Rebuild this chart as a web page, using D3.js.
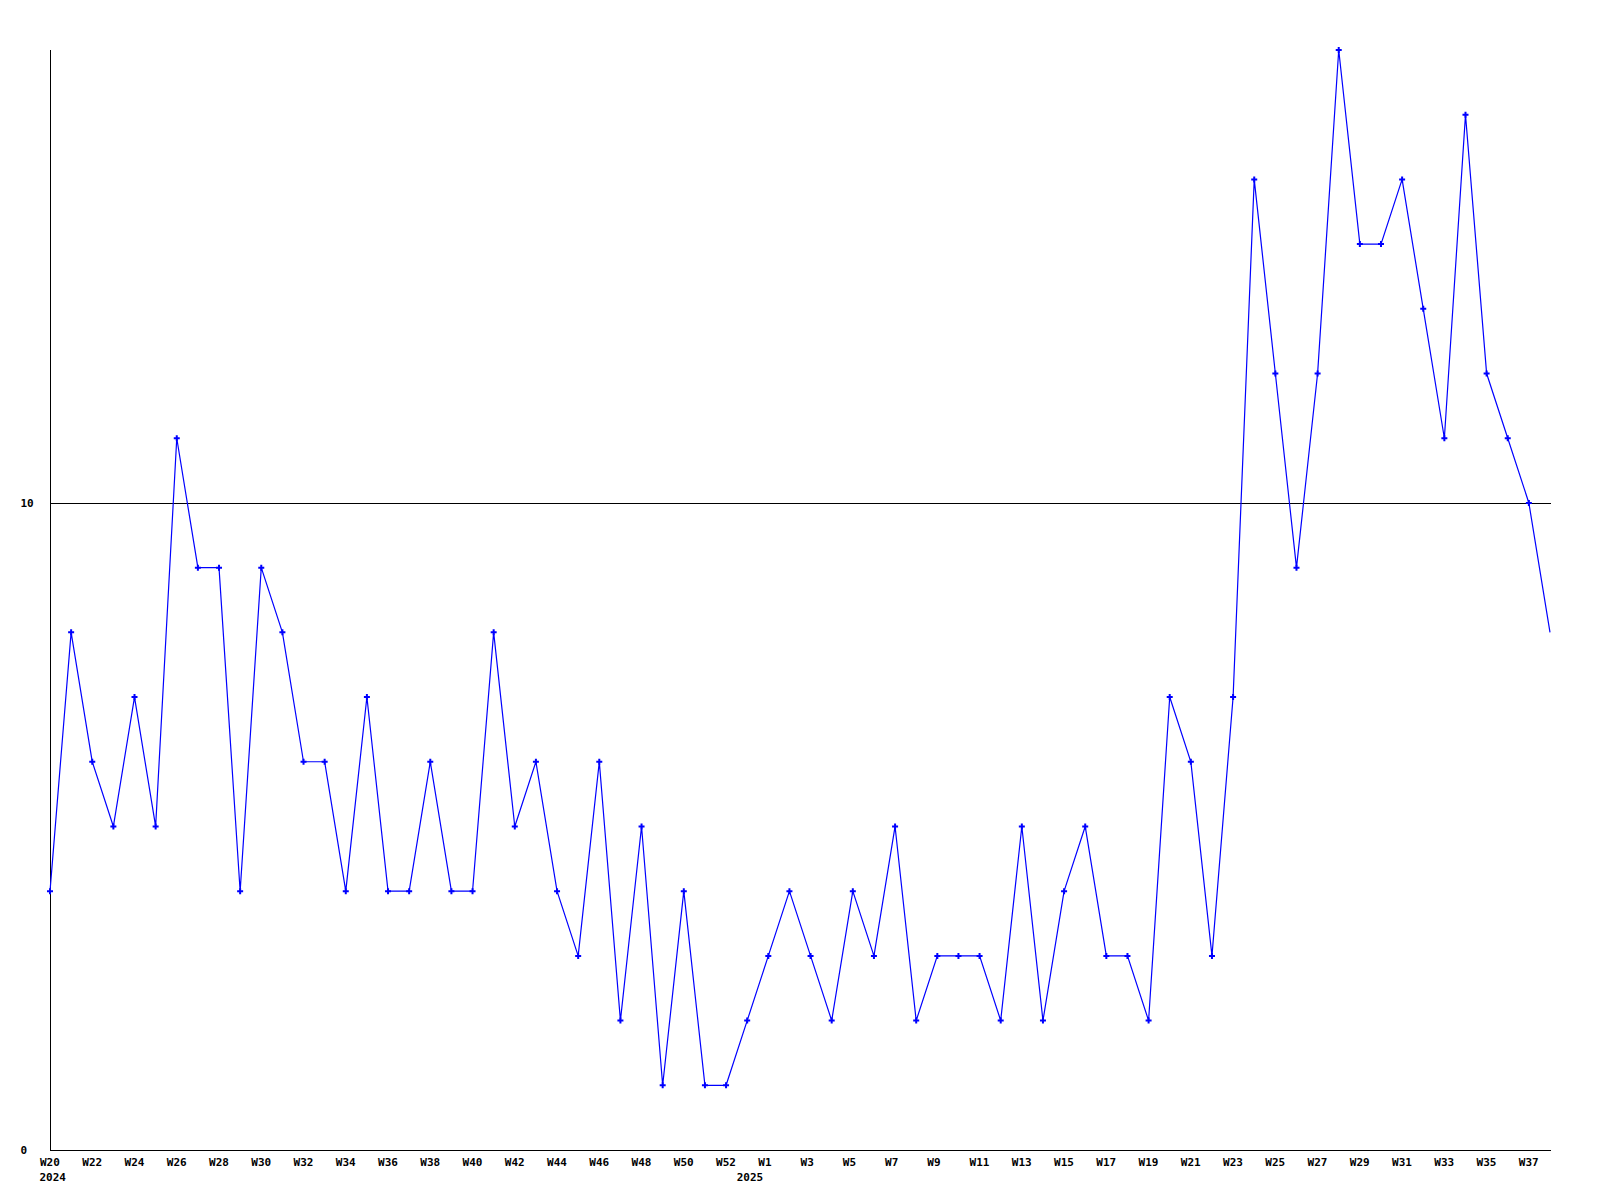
<!DOCTYPE html>
<html>
<head>
<meta charset="utf-8">
<script src="https://cdn.jsdelivr.net/npm/d3@7"></script>
<style>
  body { margin: 0; background: #fff; }
  text { font-family: "DejaVu Sans Mono", monospace; font-weight: bold; font-size: 11px; fill: #000; }
</style>
</head>
<body>
<div id="vis"></div>
<script>
// weekly counts, W20 2024 .. W38 2025
const WEEKS_2024 = d3.range(20, 53).map(w => "W" + w);
const WEEKS_2025 = d3.range(0, 39).map(w => "W" + w);
const YEARS = ["2024", "2025"];
const VALUES = [
  4, 8, 6, 5, 7, 5, 11, 9, 9, 4, 9, 8, 6, 6, 4, 7, 4, 4, 6, 4, 4, 8, 5, 6, 4, 3, 6, 2, 5, 1, 4, 1, 1,
  2, 3, 4, 3, 2, 4, 3, 5, 2, 3, 3, 3, 2, 5, 2, 4, 5, 3, 3, 2, 7, 6, 3, 7, 15, 12, 9, 12, 17, 14, 14, 15, 13, 11, 16, 12, 11, 10, 8
];
const Y_TICKS = [0, 10];

const FRAME_WIDTH = 1600;
const FRAME_HEIGHT = 1200;
const MARGINS = {left: 50, right: 50, top: 50, bottom: 50};

// one row per point, key is index so the repeated week names stay unique
const data = [];
WEEKS_2024.forEach((w, i) => data.push({key: i, week: w, year: YEARS[0]}));
WEEKS_2025.forEach((w, i) => data.push({key: WEEKS_2024.length + i, week: w, year: YEARS[1]}));
data.forEach((d, i) => d.value = VALUES[i]);

const svg = d3.select("#vis")
    .append("svg")
    .attr("width", FRAME_WIDTH)
    .attr("height", FRAME_HEIGHT);

const X_SCALE = d3.scalePoint()
    .domain(data.map(d => d.key))
    .range([MARGINS.left, FRAME_WIDTH - MARGINS.right]);

const Y_SCALE = d3.scaleLinear()
    .domain([0, 17])
    .range([FRAME_HEIGHT - MARGINS.bottom, MARGINS.top]);

const BASE_Y = FRAME_HEIGHT - MARGINS.bottom;

// grid line at 10
svg.append("line")
    .attr("x1", MARGINS.left).attr("x2", FRAME_WIDTH - MARGINS.right + 1)
    .attr("y1", Math.round(Y_SCALE(10)) + 0.5).attr("y2", Math.round(Y_SCALE(10)) + 0.5)
    .attr("stroke", "#000").attr("shape-rendering", "crispEdges");

// x axis: every second week
const xAxis = d3.axisBottom(X_SCALE)
    .tickValues(data.filter((d, i) => i % 2 === 0).map(d => d.key))
    .tickFormat(k => data[k].week)
    .tickSize(0)
    .tickSizeOuter(0);

const gx = svg.append("g")
    .attr("transform", "translate(0," + (BASE_Y + 0.5) + ")")
    .call(xAxis);
gx.select(".domain").attr("stroke", "#000").attr("shape-rendering", "crispEdges")
    .attr("d", "M" + MARGINS.left + ",0H" + (FRAME_WIDTH - MARGINS.right + 1));
gx.selectAll(".tick text")
    .attr("text-anchor", "start")
    .attr("x", -10.5)
    .attr("y", 8)
    .attr("dy", "0.71em")
    .attr("font-size", null).attr("font-family", null);

// year labels where the year starts
const yearStarts = data.filter((d, i) => i === 0 || d.year !== data[i - 1].year);
svg.selectAll(".year")
    .data(yearStarts)
    .enter()
    .append("text")
    .attr("class", "year")
    .attr("x", d => X_SCALE(d.key) - 10.5)
    .attr("y", BASE_Y + 23)
    .attr("dy", "0.71em")
    .text(d => d.year);

// y axis
const yAxis = d3.axisLeft(Y_SCALE)
    .tickValues(Y_TICKS)
    .tickSize(0)
    .tickSizeOuter(0);

const gy = svg.append("g")
    .attr("transform", "translate(" + (MARGINS.left + 0.5) + ",0)")
    .call(yAxis);
gy.select(".domain").attr("stroke", "#000").attr("shape-rendering", "crispEdges")
    .attr("d", "M0," + MARGINS.top + "V" + BASE_Y);
gy.selectAll(".tick text")
    .attr("text-anchor", "start")
    .attr("x", -30)
    .attr("font-size", null).attr("font-family", null);

// the line
const line = d3.line()
    .x(d => X_SCALE(d.key))
    .y(d => Y_SCALE(d.value));

svg.append("path")
    .datum(data)
    .attr("d", line)
    .attr("fill", "none")
    .attr("stroke", "#0000ff")
    .attr("stroke-width", 1.2);

// point markers (last one sits on the frame edge and is not drawn)
svg.selectAll(".point")
    .data(data.slice(0, -1))
    .enter()
    .append("path")
    .attr("class", "point")
    .attr("d", d3.symbol(d3.symbolCross, 20))
    .attr("transform", d => "translate(" + X_SCALE(d.key) + "," + Y_SCALE(d.value) + ")")
    .attr("fill", "#0000ff");
</script>
</body>
</html>
